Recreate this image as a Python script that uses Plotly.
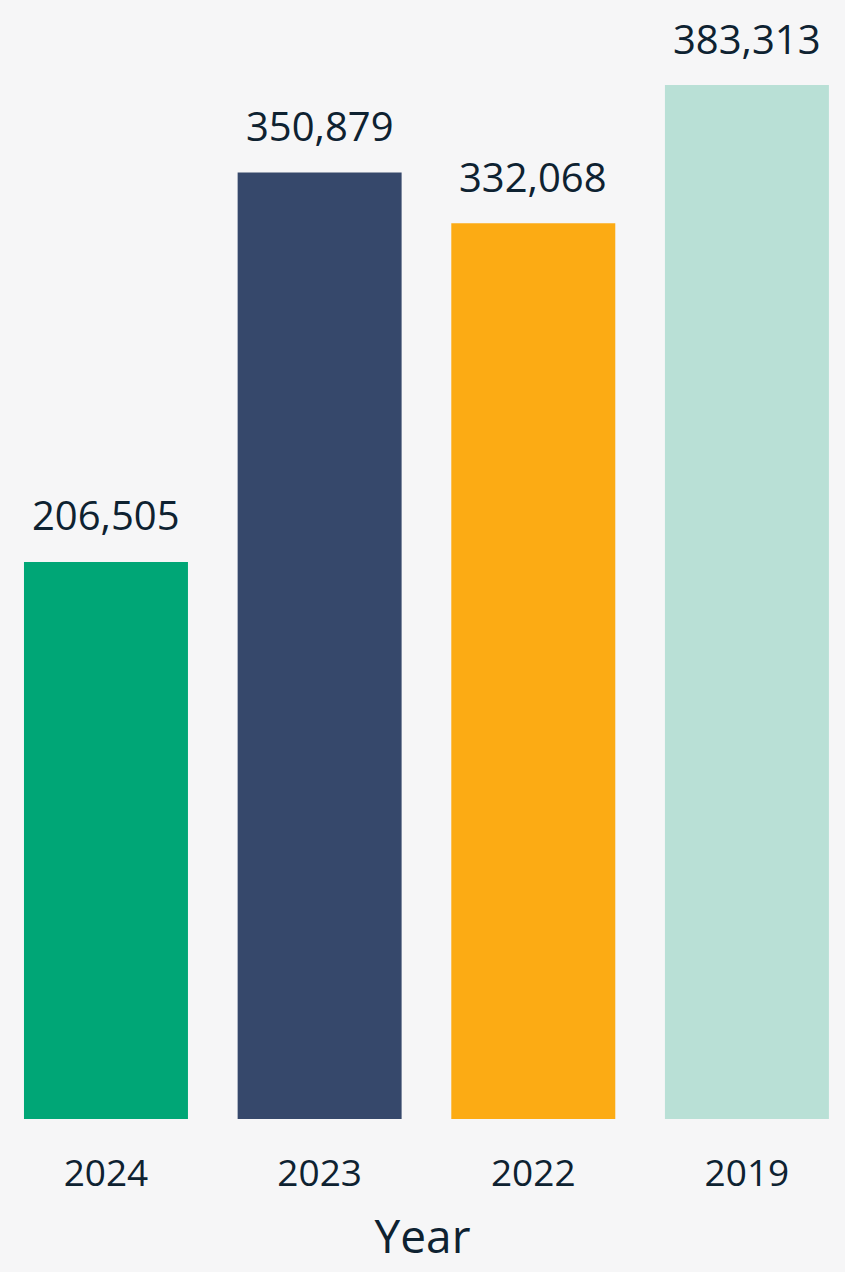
import plotly.graph_objects as go

years = ["2024", "2023", "2022", "2019"]
values = [206505, 350879, 332068, 383313]
colors = ["#00A676", "#36486B", "#FCAB14", "#B9E0D6"]
labels = [f"{v:,}" for v in values]

text_color = "#0E2231"
font_family = "Open Sans, Lato, sans-serif"

fig = go.Figure(
    go.Bar(
        x=years,
        y=values,
        marker=dict(color=colors, line=dict(width=0)),
        hoverinfo="skip",
    )
)

for i, (v, lab) in enumerate(zip(values, labels)):
    fig.add_annotation(
        x=i, y=v, text=lab, showarrow=False,
        yanchor="middle", yshift=47,
        font=dict(family=font_family, size=40, color=text_color),
    )

fig.update_layout(
    width=845,
    height=1272,
    margin=dict(l=0, r=0, t=0, b=153),
    paper_bgcolor="#F6F6F7",
    plot_bgcolor="#F6F6F7",
    bargap=0.2325,
    showlegend=False,
    font=dict(family=font_family, color=text_color),
)
fig.update_xaxes(
    type="category",
    range=[-0.496, 3.459],
    showgrid=False,
    showline=False,
    zeroline=False,
    ticks="outside",
    ticklen=22,
    tickcolor="rgba(0,0,0,0)",
    tickfont=dict(family=font_family, size=37, color=text_color),
    title=dict(text="Year", font=dict(family=font_family, size=46, color=text_color), standoff=24),
)
fig.update_yaxes(
    range=[0, 414854],
    visible=False,
    showgrid=False,
    zeroline=False,
)

fig.write_html(
    "out.html",
    config={"displayModeBar": False},
    post_script="document.body.style.margin='0';document.body.style.background='#F6F6F7';",
)
